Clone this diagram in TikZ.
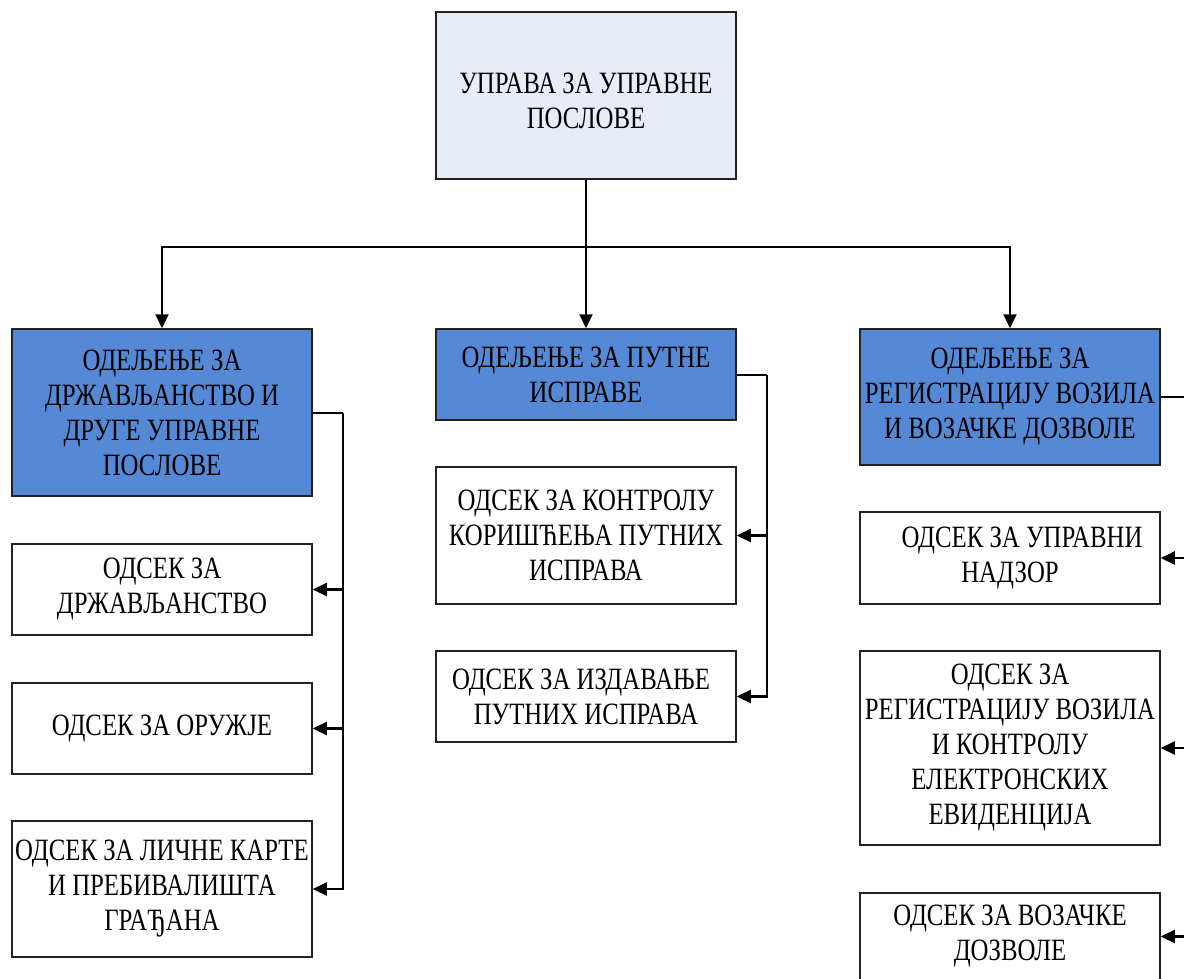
\documentclass[tikz,border=0pt]{standalone}
\usepackage{fontspec}
\setmainfont[FakeStretch=0.8]{Liberation Serif}
\usetikzlibrary{arrows.meta}
\definecolor{topfill}{HTML}{E8ECF6}
\definecolor{deptblue}{HTML}{5588D5}
\definecolor{edge}{HTML}{222222}
\tikzset{
  box/.style={draw=edge, line width=1.5pt, minimum width=300pt, inner sep=0pt, align=center,
    font=\fontsize{31}{35}\selectfont, text=black},
  dept/.style={box, fill=deptblue},
  sect/.style={box, fill=white},
  conn/.style={draw=black, line width=2.2pt},
  arr/.style={conn, -{Triangle[length=14pt,width=13pt]}}
}
\begin{document}
\begin{tikzpicture}[x=1pt,y=-1pt]
\useasboundingbox (0,0) rectangle (1184,978);
\node[box, fill=topfill, minimum height=167pt] (top) at (586,95.5) {};
\node[font=\fontsize{31}{35}\selectfont, align=center, inner sep=0pt] (toptext) at (586,101) {УПРАВА ЗА УПРАВНЕ\\ПОСЛОВЕ};
\node[dept, minimum height=167pt] (d1) at (162,412.5) {ОДЕЉЕЊЕ ЗА\\ДРЖАВЉАНСТВО И\\ДРУГЕ УПРАВНЕ\\ПОСЛОВЕ};
\node[dept, minimum height=91pt] (d2) at (586,374.5) {ОДЕЉЕЊЕ ЗА ПУТНЕ\\ИСПРАВЕ};
\node[dept, minimum height=136pt] (d3) at (1010,397) {ОДЕЉЕЊЕ ЗА\\РЕГИСТРАЦИЈУ ВОЗИЛА\\И ВОЗАЧКЕ ДОЗВОЛЕ};
\node[sect, minimum height=91pt] (s11) at (162,589.5) {ОДСЕК ЗА\\ДРЖАВЉАНСТВО};
\node[sect, minimum height=91pt] (s12) at (162,728.5) {ОДСЕК ЗА ОРУЖЈЕ};
\node[sect, minimum height=136pt] (s13) at (162,889) {ОДСЕК ЗА ЛИЧНЕ КАРТЕ\\И ПРЕБИВАЛИШТА\\ГРАЂАНА};
\node[sect, minimum height=137pt] (s21) at (586,535.5) {ОДСЕК ЗА КОНТРОЛУ\\КОРИШЋЕЊА ПУТНИХ\\ИСПРАВА};
\node[sect, minimum height=91pt] (s22) at (586,696.5) {ОДСЕК ЗА ИЗДАВАЊЕ\hspace*{10pt}\\ПУТНИХ ИСПРАВА};
\node[sect, minimum height=92pt] (s31) at (1010,558) {\hspace*{24pt}ОДСЕК ЗА УПРАВНИ\\НАДЗОР};
\node[sect, minimum height=194pt] (s32) at (1010,748) {ОДСЕК ЗА\\РЕГИСТРАЦИЈУ ВОЗИЛА\\И КОНТРОЛУ\\ЕЛЕКТРОНСКИХ\\ЕВИДЕНЦИЈА};
\node[sect, minimum height=87pt] (s33) at (1010,936.5) {ОДСЕК ЗА ВОЗАЧКЕ\\ДОЗВОЛЕ};
% top connectors
\coordinate (j) at (586,247);
\draw[conn] (top.south) -- (j);
\draw[arr] (j) -| (d1.north);
\draw[arr] (j) -- (d2.north);
\draw[arr] (j) -| (d3.north);
% left branch
\coordinate (l0) at (343,413);
\draw[conn] (d1.east |- l0) -- (l0);
\draw[arr] (l0) |- (s13.east);
\draw[arr] (l0 |- s11.east) -- (s11.east);
\draw[arr] (l0 |- s12.east) -- (s12.east);
% middle branch
\coordinate (m0) at (767,375);
\draw[conn] (d2.east |- m0) -- (m0);
\draw[arr] (m0) |- (s22.east);
\draw[arr] (m0 |- s21.east) -- (s21.east);
% right branch
\coordinate (r0) at (1184,397);
\draw[conn] (d3.east |- r0) -- (r0);
\draw[arr] (r0 |- s31.east) -- (s31.east);
\draw[arr] (r0 |- s32.east) -- (s32.east);
\draw[arr] (r0 |- s33.east) -- (s33.east);
\end{tikzpicture}
\end{document}
